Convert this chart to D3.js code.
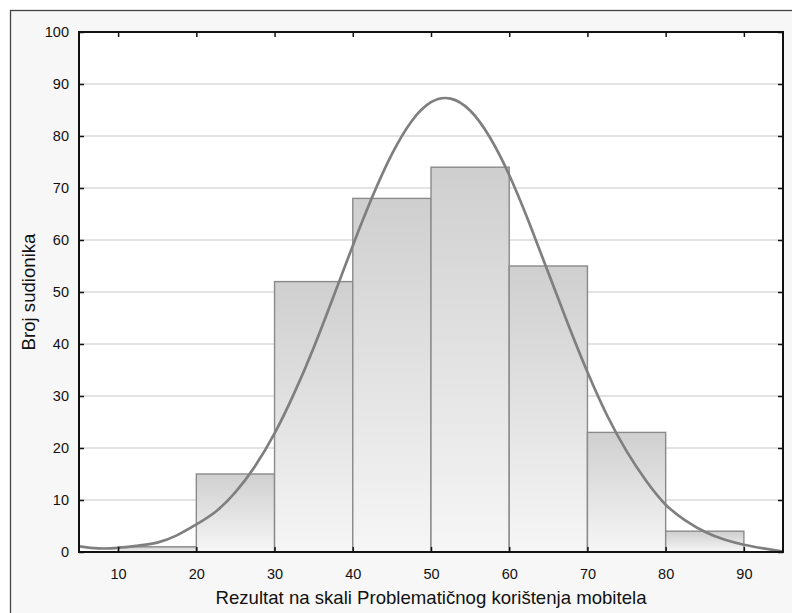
<!DOCTYPE html>
<html>
<head>
<meta charset="utf-8">
<script src="https://cdn.jsdelivr.net/npm/d3@7"></script>
<style>
  html, body { margin: 0; padding: 0; background: #ffffff; }
  svg { display: block; }
  text { font-family: "Liberation Sans", Arial, sans-serif; fill: #111; }
</style>
</head>
<body>
<svg id="chart" width="792" height="613"></svg>
<script>
// ---- data ----
const binStarts = [10, 20, 30, 40, 50, 60, 70, 80];
const binEnds   = [20, 30, 40, 50, 60, 70, 80, 90];
const counts    = [1, 15, 52, 68, 74, 55, 23, 4];

const curveX = [5, 7.5, 10, 12.5, 15, 17.5, 20, 22.5, 25, 27.5, 30, 32.5, 35, 37.5, 40, 42.5, 45, 47.5, 50, 52.5, 55, 57.5, 60, 62.5, 65, 67.5, 70, 72.5, 75, 77.5, 80, 82.5, 85, 87.5, 90, 92.5, 95];
const curveY = [1.1, 0.7, 0.8, 1.2, 1.8, 3.2, 5.3, 7.8, 11.5, 16.5, 22.8, 30.5, 39.3, 49.0, 58.9, 68.3, 76.5, 82.8, 86.5, 87.2, 84.9, 79.8, 72.5, 63.5, 53.7, 43.9, 34.6, 26.3, 19.4, 13.7, 9.1, 6.1, 3.9, 2.4, 1.4, 0.7, 0.1];

const xTicks = [10, 20, 30, 40, 50, 60, 70, 80, 90];
const yTicks = [0, 10, 20, 30, 40, 50, 60, 70, 80, 90, 100];
const xTitle = "Rezultat na skali Problematičnog korištenja mobitela";
const yTitle = "Broj sudionika";

// ---- layout ----
const svg = d3.select("#chart");
const L = 79, R = 783, T = 32, B = 552;
const x = d3.scaleLinear().domain([5, 95]).range([L, R]);
const y = d3.scaleLinear().domain([0, 100]).range([B, T]);

// outer frame
svg.append("rect").attr("x", 10.5).attr("y", 10.5).attr("width", 800).attr("height", 620)
  .attr("fill", "#f7f7f7").attr("stroke", "#444").attr("stroke-width", 1.3);

// plot area
svg.append("rect").attr("x", L).attr("y", T).attr("width", R - L).attr("height", B - T).attr("fill", "#fff");

// gradient
const defs = svg.append("defs");
const grad = defs.append("linearGradient").attr("id", "barGrad")
  .attr("x1", 0).attr("y1", 0).attr("x2", 0).attr("y2", 1);
grad.append("stop").attr("offset", "0%").attr("stop-color", "#cfcfcf");
grad.append("stop").attr("offset", "100%").attr("stop-color", "#f6f6f6");
defs.append("clipPath").attr("id", "plotClip").append("rect")
  .attr("x", L).attr("y", T).attr("width", R - L).attr("height", B - T);

// gridlines
svg.append("g").selectAll("line").data(yTicks.filter(d => d > 0 && d < 100)).join("line")
  .attr("x1", L).attr("x2", R).attr("y1", d => y(d)).attr("y2", d => y(d))
  .attr("stroke", "#dadada").attr("stroke-width", 1.5);

// bars
const bins = binStarts.map((s, i) => ({ s, e: binEnds[i], c: counts[i] }));
svg.append("g").selectAll("rect").data(bins).join("rect")
  .attr("x", d => x(d.s)).attr("width", d => x(d.e) - x(d.s))
  .attr("y", d => y(d.c)).attr("height", d => y(0) - y(d.c))
  .attr("fill", "url(#barGrad)").attr("stroke", "#8a8a8a").attr("stroke-width", 1.4);

// fitted curve
const line = d3.line().x((d, i) => x(curveX[i])).y(d => y(d)).curve(d3.curveNatural);
svg.append("path").datum(curveY).attr("d", line)
  .attr("clip-path", "url(#plotClip)")
  .attr("fill", "none").attr("stroke", "#7f7f7f").attr("stroke-width", 2.7);

// axes (ticks inward on all sides)
const tickLen = 5;
const axB = svg.append("g").attr("transform", `translate(0,${B})`)
  .call(d3.axisBottom(x).tickValues(xTicks).tickSizeInner(-tickLen).tickSizeOuter(0).tickPadding(17));
const axT = svg.append("g").attr("transform", `translate(0,${T})`)
  .call(d3.axisTop(x).tickValues(xTicks).tickSizeInner(-tickLen).tickSizeOuter(0).tickFormat(""));
const axL = svg.append("g").attr("transform", `translate(${L},0)`)
  .call(d3.axisLeft(y).tickValues(yTicks).tickSizeInner(-tickLen).tickSizeOuter(0).tickPadding(10));
const axR = svg.append("g").attr("transform", `translate(${R},0)`)
  .call(d3.axisRight(y).tickValues(yTicks).tickSizeInner(-tickLen).tickSizeOuter(0).tickFormat(""));
[axB, axT, axL, axR].forEach(a => {
  a.select(".domain").remove();
  a.selectAll(".tick line").attr("stroke", "#111").attr("stroke-width", 1.5);
  a.selectAll("text").attr("font-size", 14.5).attr("fill", "#111")
    .attr("font-family", "'Liberation Sans', Arial, sans-serif");
});

// plot border
svg.append("rect").attr("x", L).attr("y", T).attr("width", R - L).attr("height", B - T)
  .attr("fill", "none").attr("stroke", "#111").attr("stroke-width", 2);

// titles
svg.append("text").attr("x", (L + R) / 2).attr("y", 604).attr("text-anchor", "middle")
  .attr("font-size", 18.6).text(xTitle);
svg.append("text").attr("transform", `translate(35,${(T + B) / 2}) rotate(-90)`)
  .attr("text-anchor", "middle").attr("font-size", 18.6).text(yTitle);
</script>
</body>
</html>
